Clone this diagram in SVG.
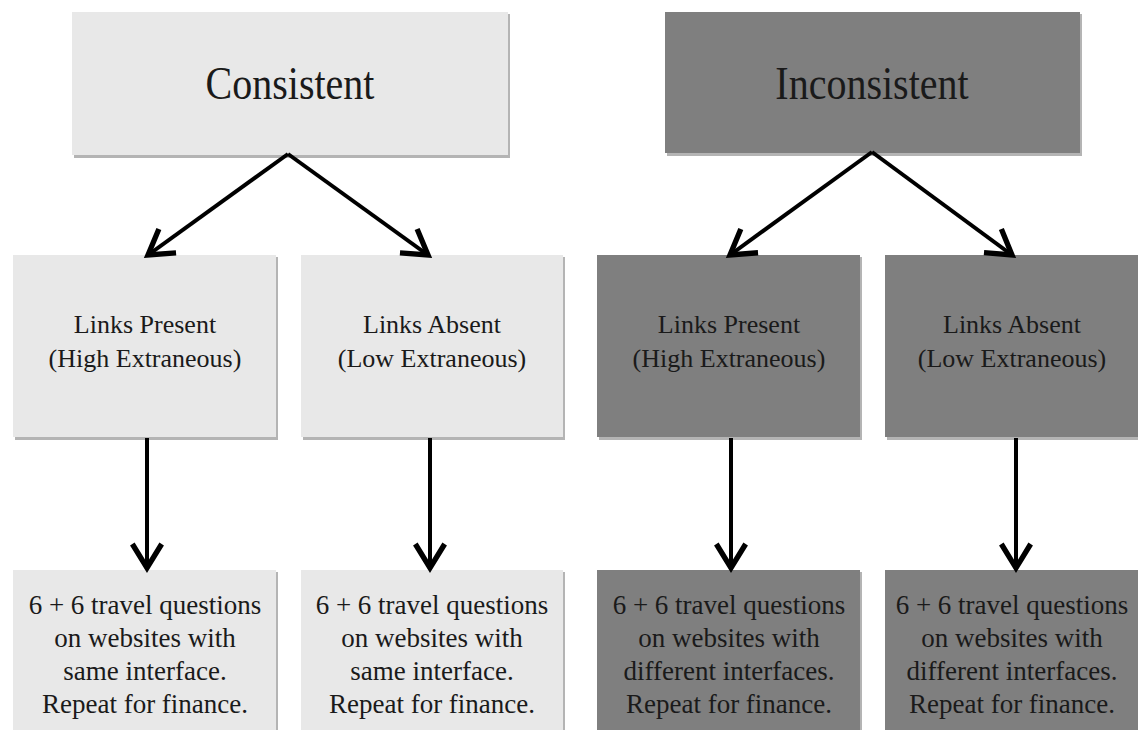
<svg xmlns="http://www.w3.org/2000/svg" width="1138" height="730" viewBox="0 0 1138 730">
<style>
.light{fill:#e8e8e8}
.dark{fill:#7f7f7f}
.sh{fill:#b4b4b4}
text{font-family:"Liberation Serif","DejaVu Serif","Noto Serif",serif;fill:#1a1a1a;text-anchor:middle}
.title{font-size:40px}
.mid{font-size:26px}
.bot{font-size:27px}
.conn{stroke:#000;stroke-width:4;fill:none}
</style>
<defs>
<marker id="ah" markerUnits="userSpaceOnUse" markerWidth="40" markerHeight="40" viewBox="-22 -15 26 30" refX="0" refY="0" orient="auto">
<path d="M-18,-11 L0,0 L-18,11" fill="none" stroke="#000" stroke-width="4" stroke-linejoin="miter"/>
</marker>
</defs>
<rect width="1138" height="730" fill="#fff"/>
<g id="consistent">
<rect class="sh" x="74" y="14" width="436" height="144"/>
<rect class="light" x="72" y="12" width="436" height="143"/>
<text class="title" x="0" y="0" transform="translate(290,99) scale(1,1.15)">Consistent</text>
</g>
<g id="inconsistent">
<rect class="sh" x="667" y="14" width="415" height="142"/>
<rect class="dark" x="665" y="12" width="415" height="141"/>
<text class="title" x="0" y="0" transform="translate(872,99) scale(1,1.15)">Inconsistent</text>
</g>
<g id="c-present">
<rect class="sh" x="15" y="257" width="263" height="183"/>
<rect class="light" x="13" y="255" width="263" height="182"/>
<text class="mid" x="145" y="333">Links Present</text>
<text class="mid" x="145" y="367">(High Extraneous)</text>
</g>
<g id="c-absent">
<rect class="sh" x="303" y="257" width="262" height="183"/>
<rect class="light" x="301" y="255" width="262" height="182"/>
<text class="mid" x="432" y="333">Links Absent</text>
<text class="mid" x="432" y="367">(Low Extraneous)</text>
</g>
<g id="i-present">
<rect class="sh" x="599" y="257" width="263" height="183"/>
<rect class="dark" x="597" y="255" width="263" height="182"/>
<text class="mid" x="729" y="333">Links Present</text>
<text class="mid" x="729" y="367">(High Extraneous)</text>
</g>
<g id="i-absent">
<rect class="sh" x="887" y="257" width="253" height="183"/>
<rect class="dark" x="885" y="255" width="253" height="182"/>
<text class="mid" x="1012" y="333">Links Absent</text>
<text class="mid" x="1012" y="367">(Low Extraneous)</text>
</g>
<g id="c-present-q">
<rect class="sh" x="15" y="572" width="263" height="160"/>
<rect class="light" x="13" y="570" width="263" height="160"/>
<text class="bot" x="145" y="614">6 + 6 travel questions</text>
<text class="bot" x="145" y="647">on websites with</text>
<text class="bot" x="145" y="680">same interface.</text>
<text class="bot" x="145" y="713">Repeat for finance.</text>
</g>
<g id="c-absent-q">
<rect class="sh" x="303" y="572" width="262" height="160"/>
<rect class="light" x="301" y="570" width="262" height="160"/>
<text class="bot" x="432" y="614">6 + 6 travel questions</text>
<text class="bot" x="432" y="647">on websites with</text>
<text class="bot" x="432" y="680">same interface.</text>
<text class="bot" x="432" y="713">Repeat for finance.</text>
</g>
<g id="i-present-q">
<rect class="sh" x="599" y="572" width="263" height="160"/>
<rect class="dark" x="597" y="570" width="263" height="160"/>
<text class="bot" x="729" y="614">6 + 6 travel questions</text>
<text class="bot" x="729" y="647">on websites with</text>
<text class="bot" x="729" y="680">different interfaces.</text>
<text class="bot" x="729" y="713">Repeat for finance.</text>
</g>
<g id="i-absent-q">
<rect class="sh" x="887" y="572" width="253" height="160"/>
<rect class="dark" x="885" y="570" width="253" height="160"/>
<text class="bot" x="1012" y="614">6 + 6 travel questions</text>
<text class="bot" x="1012" y="647">on websites with</text>
<text class="bot" x="1012" y="680">different interfaces.</text>
<text class="bot" x="1012" y="713">Repeat for finance.</text>
</g>
<g id="connectors">
<line class="conn" x1="288" y1="154" x2="148" y2="255" marker-end="url(#ah)"/>
<line class="conn" x1="288" y1="154" x2="428" y2="255" marker-end="url(#ah)"/>
<line class="conn" x1="872" y1="152" x2="730" y2="255" marker-end="url(#ah)"/>
<line class="conn" x1="872" y1="152" x2="1012" y2="255" marker-end="url(#ah)"/>
<line class="conn" x1="147" y1="438" x2="147" y2="568" marker-end="url(#ah)"/>
<line class="conn" x1="430" y1="438" x2="430" y2="568" marker-end="url(#ah)"/>
<line class="conn" x1="731" y1="438" x2="731" y2="568" marker-end="url(#ah)"/>
<line class="conn" x1="1016" y1="438" x2="1016" y2="568" marker-end="url(#ah)"/>
</g>
</svg>
